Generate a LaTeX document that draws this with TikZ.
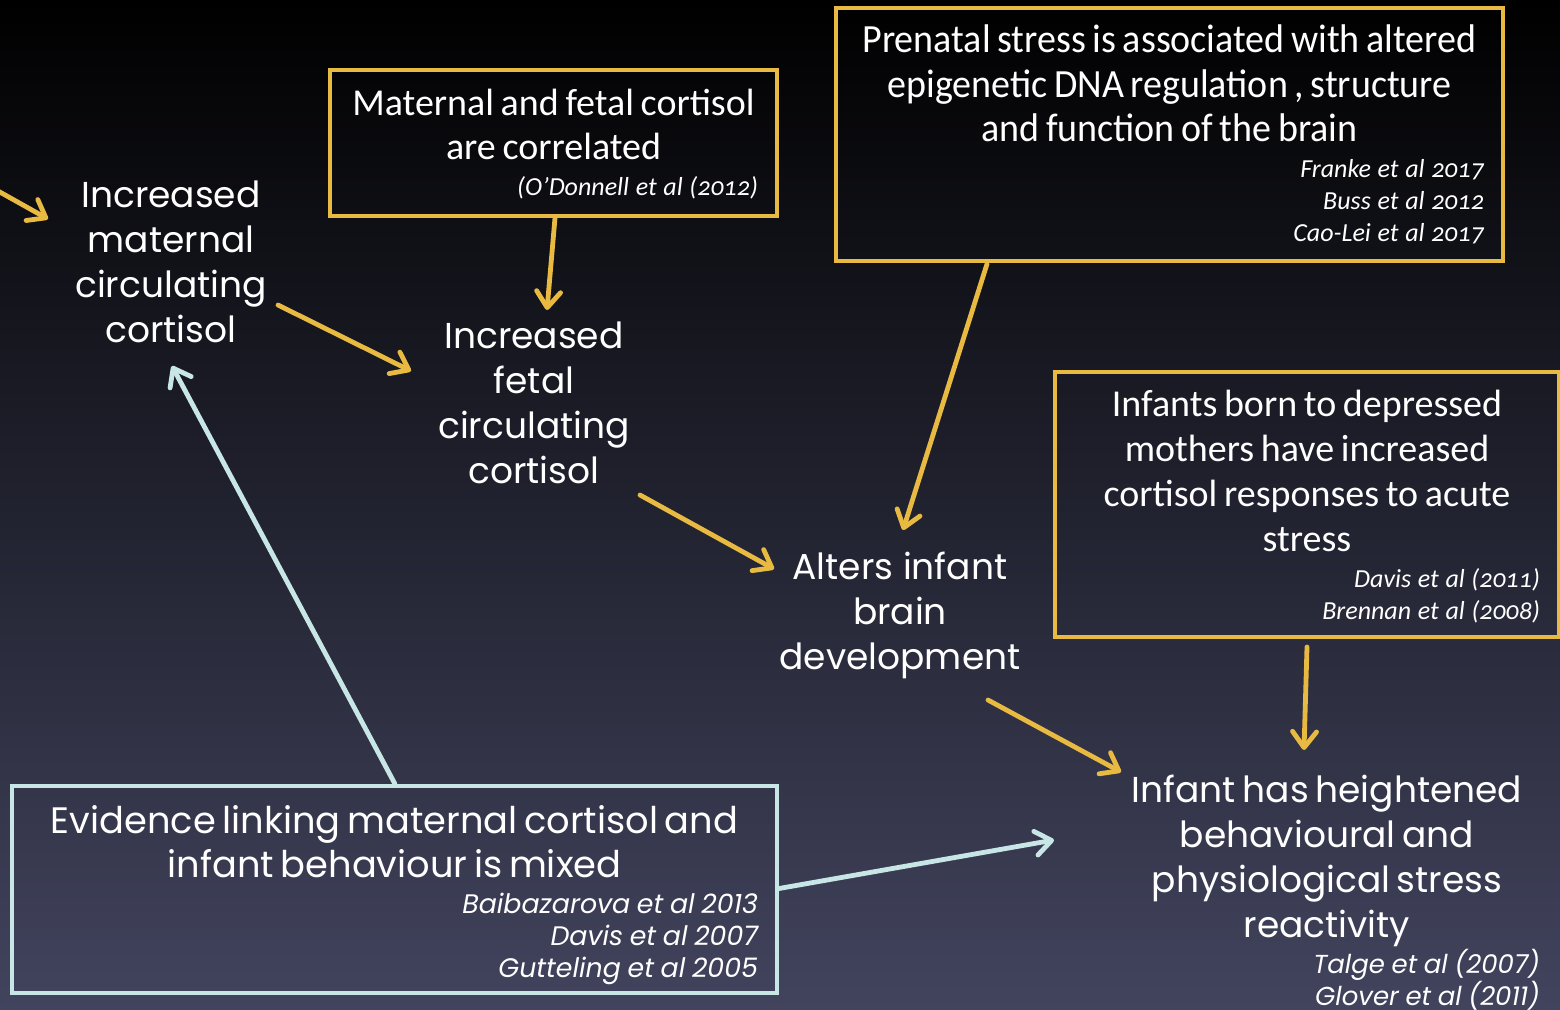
\documentclass[tikz,border=0pt]{standalone}
\usepackage{fontspec}
\setmainfont{Poppins}
\newfontfamily\boxfont{Carlito}
\newfontfamily\boxnarrow{Carlito}[FakeStretch=0.95]
\newfontfamily\citefont{Carlito}[Numbers=OldStyle]
\usetikzlibrary{arrows.meta,calc}

\definecolor{slideyellow}{RGB}{233,186,66}
\definecolor{slidecyan}{RGB}{200,230,230}
\definecolor{slidemid}{RGB}{26,26,42}
\definecolor{slidebot}{RGB}{66,68,94}

\tikzset{
  flowtext/.style={text=white, align=center, inner sep=0pt, anchor=north,
    font=\fontsize{18}{22.5}\selectfont},
  ybox/.style={draw=slideyellow, line width=2pt, text=white,
    inner xsep=9.5pt, inner ysep=0pt},
  cbox/.style={ybox, draw=slidecyan},
  yarrow/.style={draw=slideyellow, line width=2.4pt, line cap=round,
    -{Straight Barb[length=8pt,width=12pt,round]}},
  carrow/.style={yarrow, draw=slidecyan}
}

\begin{document}
\begin{tikzpicture}[x=0.5pt,y=-0.5pt]
  % background of the slide
  \shade[top color=black, middle color=slidemid, bottom color=slidebot]
    (0,0) rectangle (1560,1009);
  \useasboundingbox (0,0) rectangle (1560,1009);

  % chain of effects
  \node[flowtext] (maternal) at (171,180) {Increased\\maternal\\circulating\\cortisol};
  \node[flowtext] (fetal) at (534,321) {Increased\\fetal\\circulating\\cortisol};
  \node[flowtext] (alters) at (900,552) {Alters infant\\brain\\development};
  \node[text=white, inner sep=0pt, anchor=north, text width=213pt] (infant) at (1327,775)
    {\fontsize{18}{22.5}\selectfont\centering Infant has heightened\\behavioural and\\physiological stress\\reactivity\par
     \fontsize{13}{16}\selectfont\itshape\raggedleft Talge et al (2007)\\Glover et al (2011)\par};

  % evidence boxes
  \node[ybox, minimum width=223.5pt, minimum height=73pt, text width=204.5pt] (corr) at (553.5,143)
    {\boxfont\fontsize{19}{22}\selectfont\centering Maternal and fetal cortisol\\are correlated\par
     \vspace{2pt}\citefont\itshape\fontsize{13}{16}\selectfont\raggedleft (O’Donnell et al (2012)\par
     \vspace{-1.5pt}};
  \node[ybox, minimum width=333.5pt, minimum height=126.5pt, text width=314.5pt] (prenatal) at (1169.5,134.5)
    {\boxnarrow\fontsize{20}{22.3}\selectfont\centering Prenatal stress is associated with altered\\epigenetic DNA regulation , structure\\and function of the brain\par
     \vspace{2pt}\citefont\itshape\fontsize{13}{16}\selectfont\raggedleft Franke et al 2017\\Buss et al 2012\\Cao-Lei et al 2017\par};
  \node[ybox, minimum width=252pt, minimum height=132.5pt, text width=233pt] (infants) at (1307,504.5)
    {\boxfont\fontsize{19}{22.5}\selectfont\centering Infants born to depressed\\mothers have increased\\cortisol responses to acute\\stress\par
     \vspace{2pt}\citefont\itshape\fontsize{13}{16}\selectfont\raggedleft Davis et al (2011)\\Brennan et al (2008)\par
     \vspace{-2pt}};
  \node[cbox, minimum width=382.5pt, minimum height=103.5pt, text width=363.5pt] (evidence) at (394.5,889.5)
    {\fontsize{18.4}{22}\selectfont\centering Evidence linking maternal cortisol and\\infant behaviour is mixed\par
     \vspace{2pt}\fontsize{13.4}{16}\selectfont\itshape\raggedleft Baibazarova et al 2013\\Davis et al 2007\\Gutteling et al 2005\par
     \vspace{-5.5pt}};

  % connectors
  \coordinate (offleft) at (-2,191);
  \draw[yarrow] (offleft) -- ($(maternal.north)+(-123,39)$);
  \draw[yarrow] ($(maternal.north)+(107,125)$) -- ($(fetal.north)+(-123,50)$);
  \draw[yarrow] ($(corr.south)+(1.5,0)$) -- ($(fetal.north)+(13,-11)$);
  \draw[yarrow] ($(fetal.north)+(106,174)$) -- ($(alters.north)+(-126,17)$);
  \draw[yarrow] ($(prenatal.south)+(-182.5,1)$) -- ($(alters.north)+(3,-22)$);
  \draw[yarrow] ($(alters.north)+(88,148)$) -- ($(infant.north)+(-206,-3)$);
  \draw[yarrow] ($(infants.south)+(0,8)$) -- ($(infant.north)+(-23,-25)$);
  \draw[carrow] ($(evidence.north)+(0.5,0)$) -- ($(maternal.north)+(1,186)$);
  \draw[carrow] ($(evidence.east)+(0,-1)$) -- ($(infant.north)+(-273,65)$);
\end{tikzpicture}
\end{document}
